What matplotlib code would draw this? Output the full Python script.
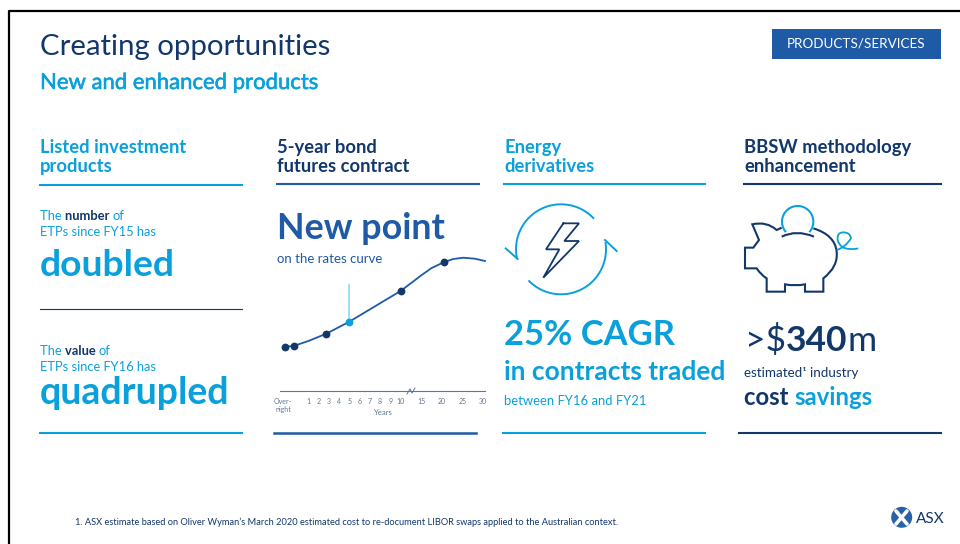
import numpy as np
import matplotlib
matplotlib.use("Agg")
import matplotlib.pyplot as plt
import matplotlib.patheffects as pe
from matplotlib.path import Path
from matplotlib.patches import PathPatch, Circle, Rectangle

NAVY = "#12376b"
MID = "#1f5aa6"
LIGHT = "#0aa0dc"
GREY = "#5f7692"

plt.rcParams["font.family"] = ["Lato", "DejaVu Sans"]

# yield curve (height in px above the axis)
curve_x = [-1.23, -0.39, 1.03, 2.78, 5.01, 7.18, 10.03, 12.04, 13.0, 14.17, 15.1, 16.08, 17.2, 18.18]
curve_y = [44.3, 45, 50, 57.3, 69.3, 82.7, 100.3, 116, 123, 128.7, 132, 133.3, 132.3, 130]
node_x = [-1.23, -0.39, 2.78, 10.03, 14.17]
node_y = [44.3, 45, 57.3, 100.3, 128.7]
new_x = [5.01]
new_y = [69.3]
tick_pos = [-1.43, 1, 2, 3, 4, 5, 6, 7, 8, 9, 10, 12, 14, 16, 18]
tick_labels = ["Over-\nnight", "1", "2", "3", "4", "5", "6", "7", "8", "9", "10", "15", "20", "25", "30"]


def runs(ax, x, y, parts, size):
    # draw (text, colour, weight) pieces one after the other
    r = ax.figure.canvas.get_renderer()
    for s, c, w in parts:
        t = ax.text(x, y, s, color=c, fontsize=size, fontweight=w, va="baseline", ha="left")
        x += t.get_window_extent(r).width


def pig(zx, zy):
    return 735 + zx / 3, 195 + zy / 3


def bolt(zx, zy):
    return 495 + zx / 3, 195 + zy / 3


fig = plt.figure(figsize=(9.6, 5.44), dpi=100)
ax = fig.add_axes([0, 0, 1, 1])
ax.set_xlim(0, 960)
ax.set_ylim(544, 0)
ax.axis("off")

# slide border
ax.plot([9, 9, 960], [544, 11, 11], color="black", lw=1.6)

ax.text(40, 55, "Creating opportunities", color=NAVY, fontsize=21.2, va="baseline")
sub = ax.text(40, 89, "New and enhanced products", color=LIGHT, fontsize=15.9, va="baseline")
sub.set_path_effects([pe.withStroke(linewidth=0.4, foreground=LIGHT)])

ax.add_patch(Rectangle((772, 29), 169, 30, color=MID, lw=0))
ax.text(856.5, 44, "PRODUCTS/SERVICES", color="white", fontsize=9.7, ha="center", va="center")

# column headings and rules
heads = [(40, ["Listed investment", "products"], LIGHT), (277, ["5-year bond", "futures contract"], NAVY),
         (504, ["Energy", "derivatives"], LIGHT), (744, ["BBSW methodology", "enhancement"], NAVY)]
for x, lines, c in heads:
    ax.text(x, 153, lines[0], color=c, fontsize=13.2, fontweight="bold", va="baseline")
    ax.text(x, 172, lines[1], color=c, fontsize=13.2, fontweight="bold", va="baseline")

ax.plot([40, 242], [185, 185], color=LIGHT, lw=1.5)
ax.plot([277, 479], [184, 184], color=MID, lw=1.5)
ax.plot([504, 705], [184, 184], color=LIGHT, lw=1.5)
ax.plot([744, 941], [184, 184], color=NAVY, lw=1.5)
ax.plot([40, 242], [433, 433], color=LIGHT, lw=1.5)
ax.plot([274, 476], [433, 433], color=MID, lw=1.8)
ax.plot([503, 705], [433, 433], color=LIGHT, lw=1.5)
ax.plot([739, 941], [433, 433], color=NAVY, lw=1.5)
ax.plot([40, 242], [309, 309], color=NAVY, lw=0.8)

# column 1
runs(ax, 40, 220, [("The ", LIGHT, "normal"), ("number ", NAVY, "bold"), ("of", LIGHT, "normal")], 9.3)
ax.text(40, 236, "ETPs since FY15 has", color=LIGHT, fontsize=9.3, va="baseline")
ax.text(40, 276, "doubled", color=LIGHT, fontsize=26.8, fontweight="bold", va="baseline")
runs(ax, 40, 355, [("The ", LIGHT, "normal"), ("value ", NAVY, "bold"), ("of", LIGHT, "normal")], 9.3)
ax.text(40, 371, "ETPs since FY16 has", color=LIGHT, fontsize=9.3, va="baseline")
ax.text(40, 404, "quadrupled", color=LIGHT, fontsize=27, fontweight="bold", va="baseline")

# column 2
ax.text(277, 239, "New point", color=MID, fontsize=25.8, fontweight="bold", va="baseline")
ax.text(277, 263, "on the rates curve", color=MID, fontsize=9.5, va="baseline")

cx = fig.add_axes([280 / 960, 1 - 391 / 544, 205 / 960, 151 / 544])
cx.patch.set_alpha(0)
cx.set_xlim(-1.72, 18.18)
cx.set_ylim(0, 151)
cx.plot(curve_x, curve_y, color=MID, lw=1.3, solid_joinstyle="round", clip_on=False)
cx.plot(node_x, node_y, "o", color=NAVY, ms=4.6, clip_on=False)
cx.vlines(new_x, new_y, 107, color="#8fd8f2", lw=1.2)
cx.plot(new_x, new_y, "o", color=LIGHT, ms=4.6)
for s in ["top", "left", "right"]:
    cx.spines[s].set_visible(False)
cx.spines["bottom"].set_color(GREY)
cx.spines["bottom"].set_linewidth(0.8)
cx.set_yticks([])
cx.set_xticks(tick_pos, tick_labels, fontsize=5, color=GREY)
cx.tick_params(axis="x", length=0, pad=5)
cx.set_xlabel("Years", fontsize=5.6, color=GREY, labelpad=-3, x=0.5)

# axis break mark
ax.plot([407, 410, 412, 415], [394, 389, 393, 388], color=GREY, lw=0.7, zorder=5)

# column 3, energy icon
a = np.radians(np.linspace(44, 190, 60))
ax.plot(561 + 45 * np.cos(a), 249.3 - 45 * np.sin(a), color=LIGHT, lw=1.4)
a = np.radians(np.linspace(225, 368, 60))
ax.plot(561 + 45 * np.cos(a), 249.3 - 45 * np.sin(a), color=LIGHT, lw=1.4)
ax.plot(*zip(bolt(32, 160), bolt(68, 192)), color=LIGHT, lw=1.4)
ax.plot(*zip(bolt(365, 168), bolt(330, 135)), color=LIGHT, lw=1.4)
zag = [(205, 85), (252, 85), (208, 138), (252, 138), (145, 248), (193, 163), (153, 163), (205, 85)]
ax.plot(*zip(*[bolt(*p) for p in zag]), color=NAVY, lw=1.3, solid_joinstyle="miter")

ax.text(504, 345, "25% CAGR", color=LIGHT, fontsize=24.8, fontweight="bold", va="baseline")
ax.text(504, 380, "in contracts traded", color=LIGHT, fontsize=19, fontweight="bold", va="baseline")
ax.text(504, 405, "between FY16 and FY21", color=LIGHT, fontsize=9.4, va="baseline")

# column 4, piggy bank
a = np.radians(np.linspace(-38, 218, 80))
zc = [pig(188 + 47 * np.cos(t), 80 - 47 * np.sin(t)) for t in a]
ax.plot(*zip(*zc), color=LIGHT, lw=1.5)
verts = [(140, 125), (185, 103), (237, 125)]
ax.add_patch(PathPatch(Path([pig(*v) for v in verts], [Path.MOVETO, Path.CURVE3, Path.CURVE3]),
                       fc="none", ec=NAVY, lw=1.5))
verts = [(235, 100), (300, 120), (305, 170), (310, 215), (265, 250), (265, 290), (210, 290), (210, 268),
         (180, 274), (150, 268), (150, 290), (95, 290), (95, 250), (78, 240), (65, 220), (30, 220),
         (30, 158), (55, 158), (72, 135), (52, 88), (95, 78), (125, 105), (140, 98)]
codes = [Path.MOVETO, Path.CURVE3, Path.CURVE3, Path.CURVE3, Path.CURVE3, Path.LINETO, Path.LINETO, Path.LINETO,
         Path.CURVE3, Path.CURVE3, Path.LINETO, Path.LINETO, Path.LINETO, Path.CURVE3, Path.CURVE3, Path.LINETO,
         Path.LINETO, Path.LINETO, Path.LINETO, Path.LINETO, Path.CURVE3, Path.CURVE3, Path.LINETO]
ax.add_patch(PathPatch(Path([pig(*v) for v in verts], codes), fc="none", ec=NAVY, lw=1.5, joinstyle="miter"))
verts = [(305, 165), (330, 158), (348, 130), (345, 112), (325, 112), (305, 112), (308, 135), (315, 162),
         (345, 162), (358, 163), (370, 160)]
codes = [Path.MOVETO] + [Path.CURVE3] * 10
ax.add_patch(PathPatch(Path([pig(*v) for v in verts], codes), fc="none", ec=LIGHT, lw=1.3))

runs(ax, 745, 351, [(">$", NAVY, "normal"), ("340", NAVY, "bold"), ("m", NAVY, "normal")], 25.5)
ax.text(744, 377, "estimated\u00b9 industry", color=NAVY, fontsize=9.6, va="baseline")
runs(ax, 744, 405, [("cost ", NAVY, "bold"), ("savings", LIGHT, "bold")], 17.2)

# footnote and logo
ax.text(75, 525, "1. ASX estimate based on Oliver Wyman\u2019s March 2020 estimated cost to re-document LIBOR swaps applied to the Australian context.",
        color=NAVY, fontsize=6.67, va="baseline")
ax.add_patch(Circle((901.7, 517.3), 10.5, color="#2a62a8", lw=0))
ax.plot([896, 907], [511, 524], color="white", lw=2.6, solid_capstyle="round")
ax.plot([907, 896], [511, 524], color="white", lw=2.6, solid_capstyle="round")
ax.text(916, 523, "ASX", color=NAVY, fontsize=11, va="baseline")

fig.savefig("out.png", dpi=100)
